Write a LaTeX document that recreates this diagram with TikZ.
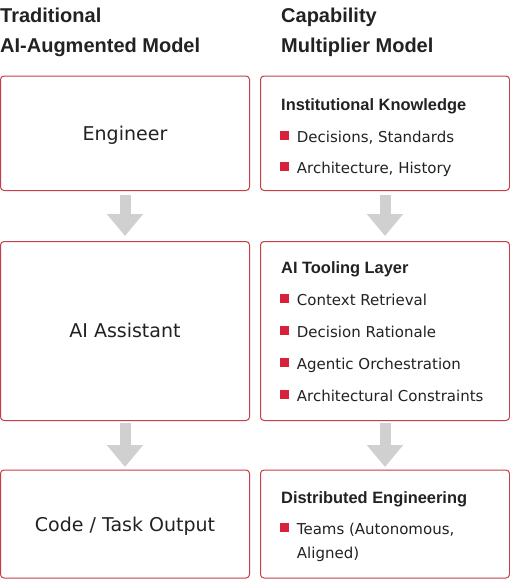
\documentclass[tikz,border=0pt]{standalone}
\usepackage{fontspec}
\setmainfont{DejaVu Sans}[BoldFont={Liberation Sans Bold}]
\usetikzlibrary{arrows.meta}
\definecolor{bord}{HTML}{C73E48}
\definecolor{bul}{HTML}{D8213A}
\definecolor{arr}{HTML}{D0D0D0}
\definecolor{txt}{HTML}{222222}
\begin{document}
\begin{tikzpicture}[x=1pt,y=-1pt,
  box/.style={draw=bord, line width=1pt, rounded corners=3.5pt, fill=white, outer sep=0pt, inner sep=0pt, anchor=north west, minimum width=249pt},
  hd/.style={anchor=base west, inner sep=0pt, text=txt, font=\fontsize{20}{24}\selectfont\bfseries},
  big/.style={anchor=base, inner sep=0pt, text=txt, font=\fontsize{19}{23}\selectfont},
  ttl/.style={anchor=base west, inner sep=0pt, text=txt, font=\fontsize{16.4}{20}\selectfont\bfseries},
  itm/.style={anchor=base west, inner sep=0pt, text=txt, font=\fontsize{15}{24}\selectfont, align=left},
  bsq/.style={fill=bul, inner sep=0pt, minimum size=8.3pt, outer sep=0pt},
  conn/.style={draw=arr, line width=11pt, -{Triangle[width=35pt,length=22pt]}}
]
\useasboundingbox (0,0) rectangle (510,579);
% headers
\node[hd] (h1a) at (0,22) {Traditional};
\node[hd] (h1b) at (0,52) {AI-Augmented Model};
\node[hd] (h2a) at (281,22) {Capability};
\node[hd] (h2b) at (281,52) {Multiplier Model};
% left boxes
\node[box, minimum height=114.5pt] (L1) at (0.5,76) {};
\node[box, minimum height=179pt] (L2) at (0.5,241.5) {};
\node[box, minimum height=108pt] (L3) at (0.5,470) {};
\node[big] (t1) at (125,140) {Engineer};
\node[big] (t2) at (125,337) {AI Assistant};
\node[big] (t3) at (125,531.5) {Code / Task Output};
% right boxes
\node[box, minimum height=114.5pt] (R1) at (260.5,76) {};
\node[box, minimum height=179pt] (R2) at (260.5,241.5) {};
\node[box, minimum height=108pt] (R3) at (260.5,470) {};
% arrows
\draw[conn, shorten <=4.5pt, shorten >=5.5pt] (L1.south) -- (L2.north);
\draw[conn, shorten <=2.5pt, shorten >=3pt] (L2.south) -- (L3.north);
\draw[conn, shorten <=4.5pt, shorten >=5.5pt] (R1.south) -- (R2.north);
\draw[conn, shorten <=2.5pt, shorten >=3pt] (R2.south) -- (R3.north);
% right box 1
\node[ttl] (k0) at (281,110) {Institutional Knowledge};
\node[bsq] (kb1) at (284.5,135.5) {};
\node[itm] (k1) at (296.7,142) {Decisions, Standards};
\node[bsq] (kb2) at (284.5,166.5) {};
\node[itm] (k2) at (296.7,173) {Architecture, History};
% right box 2
\node[ttl] (a0) at (281,273) {AI Tooling Layer};
\node[bsq] (ab1) at (284.5,298.5) {};
\node[itm] (a1) at (296.7,305) {Context Retrieval};
\node[bsq] (ab2) at (284.5,330.5) {};
\node[itm] (a2) at (296.7,337) {Decision Rationale};
\node[bsq] (ab3) at (284.5,362.5) {};
\node[itm] (a3) at (296.7,369) {Agentic Orchestration};
\node[bsq] (ab4) at (284.5,394.5) {};
\node[itm] (a4) at (296.7,401) {Architectural Constraints};
% right box 3
\node[ttl] (d0) at (281,503) {Distributed Engineering};
\node[bsq] (db1) at (284.5,527.5) {};
\node[itm] (d1) at (296.7,558) {Teams (Autonomous,\\Aligned)};
\end{tikzpicture}
\end{document}
